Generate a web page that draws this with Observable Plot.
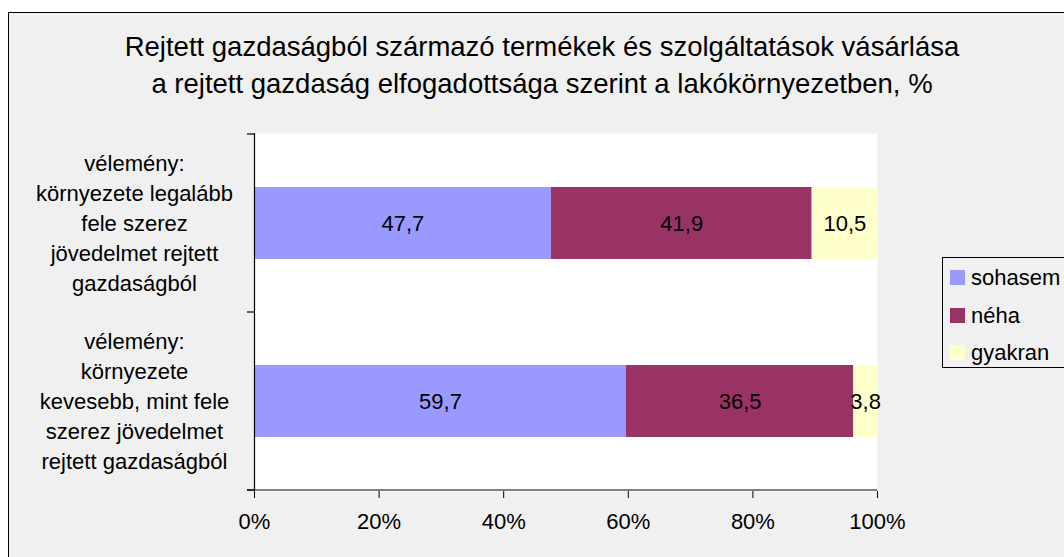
<!DOCTYPE html>
<html>
<head>
<meta charset="utf-8">
<script src="https://cdn.jsdelivr.net/npm/d3@7"></script>
<script src="https://cdn.jsdelivr.net/npm/@observablehq/plot@0.6"></script>
<style>
  html, body { margin: 0; padding: 0; background: #ffffff; }
  body { width: 1064px; height: 557px; position: relative; overflow: hidden;
         font-family: "Liberation Sans", Arial, sans-serif; color: #000; }
  #frame { position: absolute; left: 8px; top: 12px; width: 1080px; height: 570px;
           background: #f0f0f0; border: 1.5px solid #000; box-sizing: border-box; }
  #chart { position: absolute; left: 0; top: 0; }
  .title { position: absolute; left: 542px; transform: translateX(-50%); white-space: nowrap;
           font-size: 27.5px; line-height: 1; }
  #legend { position: absolute; left: 942px; top: 257px; width: 140px; height: 111px;
            border: 1px solid #000; background: #f0f0f0; box-sizing: border-box; }
  .item { position: absolute; left: 950px; height: 15px; }
  .sw { position: absolute; left: 0; top: 0; width: 15px; height: 15px; }
  .lab { position: absolute; left: 21px; top: 50%; transform: translateY(-50%); font-size: 22px;
         white-space: nowrap; line-height: 1; }
</style>
</head>
<body>
<div id="frame"></div>
<div id="chart"></div>
<div class="title" id="t1" style="top:33px">Rejtett gazdaságból származó termékek és szolgáltatások vásárlása</div>
<div class="title" id="t2" style="top:70px">a rejtett gazdaság elfogadottsága szerint a lakókörnyezetben, %</div>
<div id="legend"></div>
<script>
// ---- data ----
const categories = [
  "vélemény:\nkörnyezete legalább\nfele szerez\njövedelmet rejtett\ngazdaságból",
  "vélemény:\nkörnyezete\nkevesebb, mint fele\nszerez jövedelmet\nrejtett gazdaságból"
];
const series = ["sohasem", "néha", "gyakran"];
const colors = ["#9999FF", "#993366", "#FFFFCC"];
const sohasem = [47.7, 59.7];
const neha = [41.9, 36.5];
const gyakran = [10.5, 3.8];
const xTicks = [0, 0.2, 0.4, 0.6, 0.8, 1];

const valuesBySeries = [sohasem, neha, gyakran];
const data = [];
series.forEach((s, si) => {
  categories.forEach((c, ci) => {
    data.push({cat: c, series: s, value: valuesBySeries[si][ci]});
  });
});

const fmt = v => v.toFixed(1).replace(".", ",");

const plot = Plot.plot({
  width: 1064,
  height: 557,
  marginTop: 133,
  marginBottom: 66,
  marginLeft: 254,
  marginRight: 187,
  style: {background: "transparent", fontFamily: "Liberation Sans, Arial, sans-serif", color: "#000", overflow: "visible"},
  x: {domain: [0, 1]},
  y: {domain: categories, paddingInner: 0.597, paddingOuter: 0.302, axis: null},
  color: {domain: series, range: colors},
  marks: [
    Plot.frame({fill: "white", stroke: "none"}),
    Plot.barX(data, {x: "value", y: "cat", fill: "series", offset: "normalize", order: null}),
    Plot.text(data, Plot.stackX({
      x: "value", y: "cat", z: "series", offset: "normalize", order: null,
      text: d => fmt(d.value), fontSize: 22, fill: "#000"
    })),
    Plot.text(categories, {
      y: d => d, text: d => d, frameAnchor: "left", dx: -120, dy: -2,
      textAnchor: "middle", lineAnchor: "middle", lineHeight: 1.36, fontSize: 22, fill: "#000"
    }),
    Plot.ruleX([0], {stroke: "#000", strokeWidth: 1.2}),
    Plot.axisX({
      ticks: xTicks, tickFormat: d3.format(".0%"), tickSize: 7, tickPadding: 15,
      fontSize: 22, label: null, stroke: "#000"
    })
  ]
});

// axis lines and category ticks (from library scales)
const svg = d3.select(plot);
const xs = plot.scale("x"), ys = plot.scale("y");
const x0 = xs.apply(0), x1 = xs.apply(1);
const step = ys.step, bw = ys.bandwidth;
const centers = categories.map(c => ys.apply(c) + bw / 2);
const bounds = [centers[0] - step / 2, ...centers.map(c => c + step / 2)];
const yBottom = bounds[bounds.length - 1];
const g = svg.append("g").attr("stroke", "#000").attr("stroke-width", 1.2);
g.append("line").attr("x1", x0 - 7).attr("x2", x1).attr("y1", yBottom).attr("y2", yBottom);
bounds.forEach(b => g.append("line").attr("x1", x0 - 7).attr("x2", x0).attr("y1", b).attr("y2", b));

document.getElementById("chart").appendChild(plot);

// legend
const rowTops = [270, 308, 345];
series.forEach((s, i) => {
  const item = document.createElement("div");
  item.className = "item";
  item.style.top = rowTops[i] + "px";
  item.innerHTML = `<div class="sw" style="background:${colors[i]}"></div><div class="lab">${s}</div>`;
  document.body.appendChild(item);
});
</script>
</body>
</html>
